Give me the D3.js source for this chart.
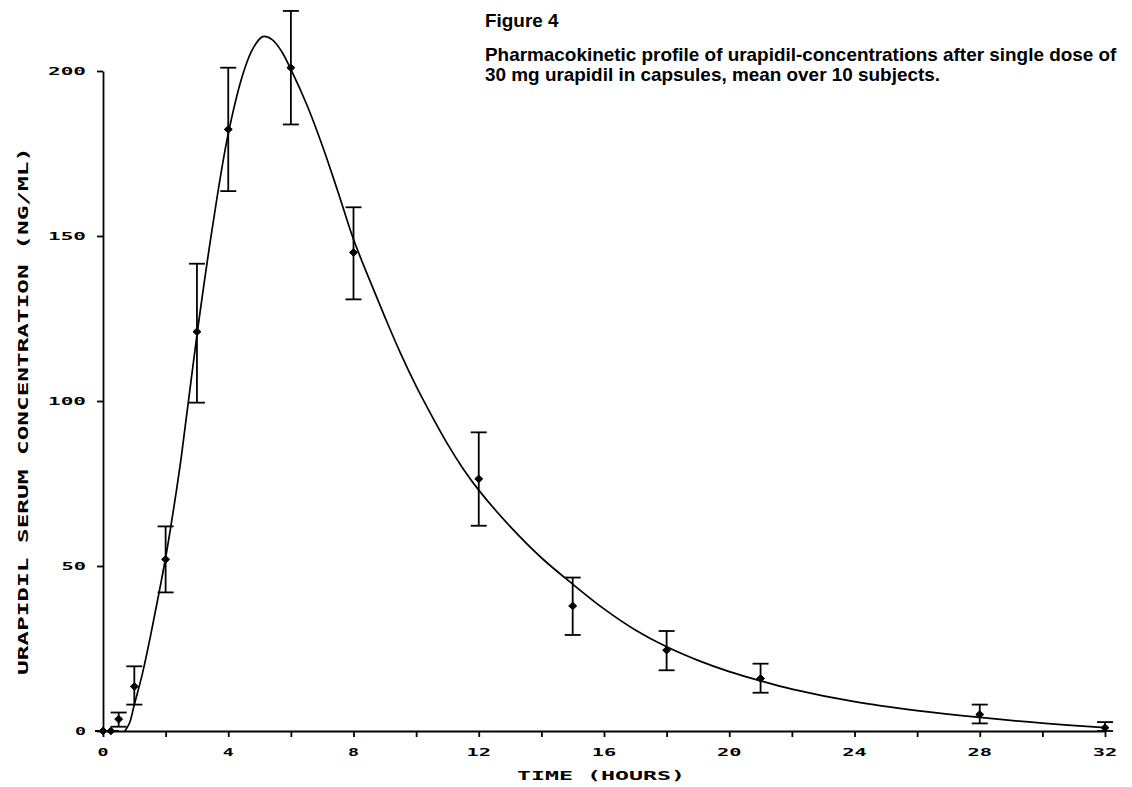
<!DOCTYPE html>
<html>
<head>
<meta charset="utf-8">
<script src="https://cdn.jsdelivr.net/npm/d3@7"></script>
<style>
    html, body { margin: 0; padding: 0; background: #fff; }
    svg { display: block; }
    .plotter { font-family: "DejaVu Sans Mono", monospace; font-weight: bold; fill: #000; }
    .caption { font-family: "Liberation Sans", Arial, sans-serif; font-weight: bold; fill: #000; }
</style>
</head>
<body>
<div id="chartContainerId"></div>
<script>

// measured samples (hours, ng/ml)
var sampleTimes = [0, 0.25, 0.5, 1, 2, 3, 4, 6, 8, 12, 15, 18, 21, 28, 32];
var meanConc    = [0, 0, 3.6, 13.5, 52, 121, 182.3, 201, 145, 76.4, 37.9, 24.5, 15.9, 5.0, 1.0];
var errLow      = [0, 0, 1.3, 8, 42, 99.5, 163.6, 183.8, 130.8, 62.2, 29.1, 18.4, 11.6, 2.3, 0];
var errHigh     = [0, 0, 5.6, 19.6, 62, 141.6, 201, 218.2, 158.7, 90.5, 46.5, 30.3, 20.4, 8, 2.7];

// fitted curve
var curveTimes  = [0.7, 0.85, 1, 1.25, 1.5, 1.75, 2, 2.25, 2.5, 3, 3.5, 4, 4.5, 4.8, 5.1, 5.4, 5.7, 6, 6.5, 7, 7.5, 8,
                   8.5, 9, 9.5, 10, 10.5, 11, 11.5, 12, 13, 14, 15, 16, 17, 18, 19, 20, 21, 22, 24, 26, 28, 30, 32];
var curveValues = [0, 2.5, 8, 17, 28, 40, 52.5, 67, 83, 120, 153, 181, 200, 207, 210.4, 209.5, 206, 200.5, 190, 177.5, 163.5, 149,
                   137, 125.5, 114.5, 104.5, 95.5, 87, 79.5, 73, 62, 52.5, 44.5, 37, 30.6, 25.5, 21.4, 18, 15.2, 12.7, 8.9, 6.2, 4.1, 2.4, 1.0];

// axis ticks
var yTickValues = [0, 50, 100, 150, 200];
var xTickValues = [0, 2, 4, 6, 8, 10, 12, 14, 16, 18, 20, 22, 24, 26, 28, 30, 32];
var xTickLabels = [0, 4, 8, 12, 16, 20, 24, 28, 32];

var titleLines = [
    "Figure 4",
    "Pharmacokinetic profile of urapidil-concentrations after single dose of",
    "30 mg urapidil in capsules, mean over 10 subjects."
];
var xAxisTitle = "TIME  (HOURS)";
var yAxisTitle = "URAPIDIL  SERUM  CONCENTRATION  (NG/ML)";


var chart = {};

(function(exports) {

    "use strict";

    var full = {w: 1132, h: 787};
    var svg;

    exports.init = function() {

        var xScale = d3.scaleLinear().domain([0, 32]).range([103, 1105]);
        var yScale = d3.scaleLinear().domain([0, 200]).range([731, 71]);

        svg = d3.select("#chartContainerId")
                .append("svg")
                .attr("width", full.w)
                .attr("height", full.h);

        drawAxes(xScale, yScale);
        drawCurve(xScale, yScale);
        drawSamples(xScale, yScale);
        drawCaption();
    };


    // plotter labels are wide; stretch glyphs to the measured width
    function plotterWidth(str) {
        return String(str).length * 13.5 - 2.5;
    }


    function drawAxes(xScale, yScale) {

        var yAxis = d3.axisLeft(yScale)
                      .tickValues(yTickValues)
                      .tickSize(6)
                      .tickSizeOuter(0)
                      .tickFormat("");

        var xAxis = d3.axisBottom(xScale)
                      .tickValues(xTickValues)
                      .tickSize(6)
                      .tickSizeOuter(0)
                      .tickFormat("");

        var yG = svg.append("g").attr("transform", "translate(" + xScale(0) + ",0)").call(yAxis);
        var xG = svg.append("g").attr("transform", "translate(0," + yScale(0) + ")").call(xAxis);

        [yG, xG].forEach(function(g) {
            g.selectAll("path, line").attr("stroke", "#000").attr("stroke-width", 1.8);
        });

        svg.append("g").selectAll("text")
           .data(yTickValues)
           .enter()
           .append("text")
             .attr("class", "plotter")
             .attr("x", 86)
             .attr("y", function(d) { return yScale(d) + 4; })
             .attr("text-anchor", "end")
             .attr("font-size", 10.5)
             .attr("textLength", function(d) { return plotterWidth(d); })
             .attr("lengthAdjust", "spacingAndGlyphs")
             .text(function(d) { return d; });

        svg.append("g").selectAll("text")
           .data(xTickLabels)
           .enter()
           .append("text")
             .attr("class", "plotter")
             .attr("x", function(d) { return xScale(d); })
             .attr("y", 756)
             .attr("text-anchor", "middle")
             .attr("font-size", 10.5)
             .attr("textLength", function(d) { return plotterWidth(d); })
             .attr("lengthAdjust", "spacingAndGlyphs")
             .text(function(d) { return d; });

        svg.append("text")
           .attr("class", "plotter")
           .attr("x", 601)
           .attr("y", 780)
           .attr("text-anchor", "middle")
           .attr("font-size", 12.5)
           .attr("textLength", 168)
           .attr("lengthAdjust", "spacingAndGlyphs")
           .text(xAxisTitle);

        svg.append("text")
           .attr("class", "plotter")
           .attr("transform", "translate(28,411) rotate(-90)")
           .attr("text-anchor", "middle")
           .attr("font-size", 13.5)
           .attr("textLength", 528)
           .attr("lengthAdjust", "spacingAndGlyphs")
           .text(yAxisTitle);
    }


    function drawCurve(xScale, yScale) {

        var line = d3.line()
                     .x(function(d) { return xScale(d[0]); })
                     .y(function(d) { return yScale(d[1]); })
                     .curve(d3.curveCatmullRom.alpha(0.5));

        svg.append("path")
           .datum(d3.zip(curveTimes, curveValues))
           .attr("d", line)
           .attr("fill", "none")
           .attr("stroke", "#000")
           .attr("stroke-width", 1.7);
    }


    function drawSamples(xScale, yScale) {

        var capHalf = 8;
        var samples = sampleTimes.map(function(t, i) {
            return {t: t, mean: meanConc[i], lo: errLow[i], hi: errHigh[i]};
        });

        var groups = svg.append("g").attr("id", "samplesGroupId")
                        .selectAll("g")
                        .data(samples)
                        .enter()
                        .append("g")
                          .attr("stroke", "#000")
                          .attr("stroke-width", 1.8);

        groups.append("line")
              .attr("x1", function(d) { return xScale(d.t); })
              .attr("x2", function(d) { return xScale(d.t); })
              .attr("y1", function(d) { return yScale(d.lo); })
              .attr("y2", function(d) { return yScale(d.hi); });

        ["lo", "hi"].forEach(function(key) {
            groups.append("line")
                  .attr("x1", function(d) { return xScale(d.t) - capHalf; })
                  .attr("x2", function(d) { return xScale(d.t) + capHalf; })
                  .attr("y1", function(d) { return yScale(d[key]); })
                  .attr("y2", function(d) { return yScale(d[key]); });
        });

        groups.append("path")
              .attr("transform", function(d) { return "translate(" + xScale(d.t) + "," + yScale(d.mean) + ")"; })
              .attr("d", "M0,-3.8L4,0L0,3.8L-4,0Z")
              .attr("fill", "#000")
              .attr("stroke-width", 1);
    }


    function drawCaption() {

        var lineY = [27, 61, 81];
        var firstLineWidth = 632;

        var texts = svg.append("g").selectAll("text")
           .data(titleLines)
           .enter()
           .append("text")
             .attr("class", "caption")
             .attr("x", 485)
             .attr("y", function(d, i) { return lineY[i]; })
             .attr("font-size", 15)
             .text(function(d) { return d; });

        // size the caption so its first text line spans the measured width
        var measured = texts.nodes()[1].getComputedTextLength();
        texts.attr("font-size", 15 * firstLineWidth / measured);
    }


})(chart);

chart.init();

</script>
</body>
</html>
